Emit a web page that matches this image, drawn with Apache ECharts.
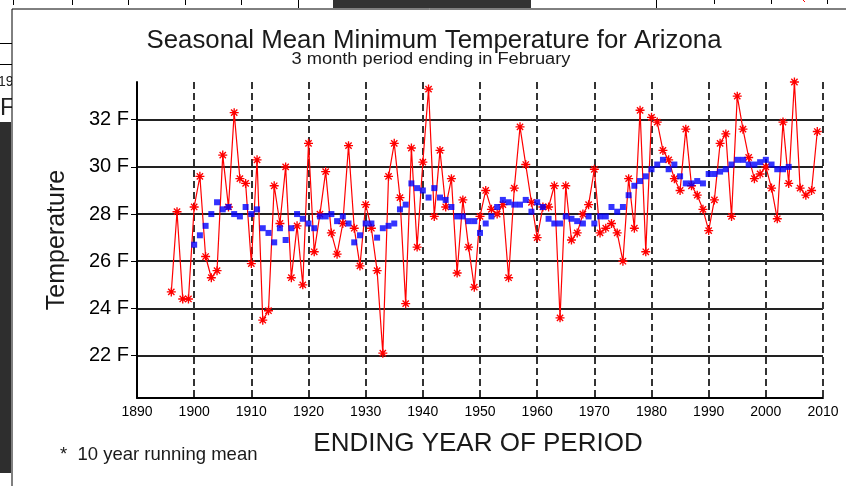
<!DOCTYPE html>
<html>
<head>
<meta charset="utf-8">
<script src="https://cdn.jsdelivr.net/npm/echarts@6/dist/echarts.min.js"></script>
<style>
  html, body { margin: 0; padding: 0; background: #fff; }
  #chart { width: 846px; height: 486px; }
</style>
</head>
<body>
<div id="chart"></div>
<script>
// Seasonal (Dec-Feb) mean minimum temperature, Arizona, °F
const annualYears = [
  1896, 1897, 1898, 1899, 1900, 1901, 1902, 1903, 1904, 1905, 1906, 1907, 1908, 1909,
  1910, 1911, 1912, 1913, 1914, 1915, 1916, 1917, 1918, 1919,
  1920, 1921, 1922, 1923, 1924, 1925, 1926, 1927, 1928, 1929,
  1930, 1931, 1932, 1933, 1934, 1935, 1936, 1937, 1938, 1939,
  1940, 1941, 1942, 1943, 1944, 1945, 1946, 1947, 1948, 1949,
  1950, 1951, 1952, 1953, 1954, 1955, 1956, 1957, 1958, 1959,
  1960, 1961, 1962, 1963, 1964, 1965, 1966, 1967, 1968, 1969,
  1970, 1971, 1972, 1973, 1974, 1975, 1976, 1977, 1978, 1979,
  1980, 1981, 1982, 1983, 1984, 1985, 1986, 1987, 1988, 1989,
  1990, 1991, 1992, 1993, 1994, 1995, 1996, 1997, 1998, 1999,
  2000, 2001, 2002, 2003, 2004, 2005, 2006, 2007, 2008, 2009
];
const annualTemps = [
  24.7, 28.1, 24.4, 24.4, 28.3, 29.6, 26.2, 25.3, 25.6, 30.5, 28.3, 32.3, 29.5, 29.3,
  25.9, 30.3, 23.5, 23.9, 29.2, 27.6, 30.0, 25.3, 27.5, 25.0,
  31.0, 26.4, 28.0, 29.8, 27.2, 26.3, 27.6, 30.9, 27.4, 25.8,
  28.4, 27.4, 25.6, 22.1, 29.6, 31.0, 28.7, 24.2, 30.8, 26.6,
  30.2, 33.3, 27.9, 30.7, 28.3, 29.5, 25.5, 28.6, 26.6, 24.9,
  27.9, 29.0, 28.2, 28.0, 28.4, 25.3, 29.1, 31.7, 30.1, 28.5,
  27.0, 28.3, 28.3, 29.2, 23.6, 29.2, 26.9, 27.2, 28.0, 28.4,
  29.9, 27.2, 27.4, 27.6, 27.2, 26.0, 29.5, 27.4, 32.4, 26.4,
  32.1, 31.9, 30.7, 30.3, 29.5, 29.0, 31.6, 29.2, 28.8, 28.2,
  27.3, 28.6, 31.0, 31.4, 27.9, 33.0, 31.6, 30.4, 29.5, 29.7,
  30.0, 29.1, 27.8, 31.9, 29.3, 33.6, 29.1, 28.8, 29.0, 31.5
];

// 10 year running mean
const meanYears = [
  1900, 1901, 1902, 1903, 1904, 1905, 1906, 1907, 1908, 1909,
  1910, 1911, 1912, 1913, 1914, 1915, 1916, 1917, 1918, 1919,
  1920, 1921, 1922, 1923, 1924, 1925, 1926, 1927, 1928, 1929,
  1930, 1931, 1932, 1933, 1934, 1935, 1936, 1937, 1938, 1939,
  1940, 1941, 1942, 1943, 1944, 1945, 1946, 1947, 1948, 1949,
  1950, 1951, 1952, 1953, 1954, 1955, 1956, 1957, 1958, 1959,
  1960, 1961, 1962, 1963, 1964, 1965, 1966, 1967, 1968, 1969,
  1970, 1971, 1972, 1973, 1974, 1975, 1976, 1977, 1978, 1979,
  1980, 1981, 1982, 1983, 1984, 1985, 1986, 1987, 1988, 1989,
  1990, 1991, 1992, 1993, 1994, 1995, 1996, 1997, 1998, 1999,
  2000, 2001, 2002, 2003, 2004
];
const meanTemps = [
  26.7, 27.1, 27.5, 28.0, 28.5, 28.2, 28.3, 28.0, 27.9, 28.3,
  28.0, 28.2, 27.4, 27.2, 26.8, 27.4, 26.9, 27.4, 28.0, 27.8,
  27.6, 27.4, 27.9, 27.9, 28.0, 27.7, 27.9, 27.6, 26.8, 27.1,
  27.6, 27.6, 27.0, 27.4, 27.5, 27.6, 28.2, 28.4, 29.3, 29.1,
  29.0, 28.7, 29.1, 28.7, 28.6, 28.3, 27.9, 27.9, 27.7, 27.7,
  27.2, 27.6, 27.9, 28.3, 28.6, 28.5, 28.4, 28.4, 28.6, 28.1,
  28.5, 28.3, 27.8, 27.6, 27.6, 27.9, 27.8, 27.7, 27.6, 27.9,
  27.6, 27.9, 27.9, 28.3, 28.1, 28.3, 28.8, 29.2, 29.4, 29.6,
  29.9, 30.1, 30.3, 29.9, 30.1, 29.6, 29.3, 29.3, 29.4, 29.3,
  29.7, 29.7, 29.8, 29.9, 30.1, 30.3, 30.3, 30.1, 30.1, 30.2,
  30.3, 30.1, 29.9, 29.9, 30.0
];

const tempTicks = [22, 24, 26, 28, 30, 32];

// eight-armed asterisk marker
const starSymbol = 'path://M0 8.5L20 8.5L20 11.5L0 11.5Z M8.5 0L11.5 0L11.5 20L8.5 20Z ' +
  'M4.06 1.94L18.06 15.94L15.94 18.06L1.94 4.06Z M15.94 1.94L18.06 4.06L4.06 18.06L1.94 15.94Z';

const annualData = annualYears.map((y, i) => [y, annualTemps[i]]);
const meanData = meanYears.map((y, i) => [y, meanTemps[i]]);

const FONT = '"Liberation Sans", Arial, Helvetica, sans-serif';

const chart = echarts.init(document.getElementById('chart'), null, { renderer: 'canvas' });

chart.setOption({
  animation: false,
  backgroundColor: '#ffffff',
  textStyle: { fontFamily: FONT },
  grid: {
    left: 137, right: 23, top: 82, bottom: 88,
    show: true, borderColor: '#000', borderWidth: 2, backgroundColor: 'transparent'
  },
  xAxis: {
    type: 'value',
    min: 1890, max: 2010, interval: 10,
    axisLine: { show: true, onZero: false, lineStyle: { color: '#000', width: 2 } },
    axisTick: { show: false },
    axisLabel: { color: '#000', fontSize: 14, margin: 7, fontFamily: FONT, formatter: v => String(v) },
    splitLine: { show: true, lineStyle: { color: '#333', width: 2, type: [7, 4] } }
  },
  yAxis: {
    type: 'value',
    min: 20.2, max: 33.6,
    axisLine: { show: true, lineStyle: { color: '#000', width: 2 } },
    axisTick: { show: true, length: 6, customValues: tempTicks, lineStyle: { color: '#000', width: 1 } },
    axisLabel: {
      customValues: tempTicks, color: '#000', fontSize: 20, margin: 8, fontFamily: FONT,
      formatter: v => v + ' F'
    },
    splitLine: { show: true, lineStyle: { color: '#222', width: 2 } }
  },
  series: [
    {
      name: 'annual',
      type: 'line',
      data: annualData,
      symbol: starSymbol,
      symbolSize: 9,
      showAllSymbol: true,
      itemStyle: { color: '#ff0000' },
      lineStyle: { color: '#ff0000', width: 1.2 },
      z: 3
    },
    {
      name: '10 year running mean',
      type: 'scatter',
      data: meanData,
      symbol: 'rect',
      symbolSize: 6,
      itemStyle: { color: '#0000ff' },
      z: 4
    }
  ],
  graphic: [
    // neighbouring window fragments
    { type: 'rect', shape: { x: 0, y: 122, width: 11, height: 351 }, style: { fill: '#2e2e2e' } },
    { type: 'line', shape: { x1: 0, y1: 43.5, x2: 12, y2: 43.5 }, style: { stroke: '#000', lineWidth: 1 } },
    { type: 'line', shape: { x1: 0, y1: 64.5, x2: 12, y2: 64.5 }, style: { stroke: '#000', lineWidth: 1 } },
    { type: 'text', x: -2, y: 82, style: { text: '19', font: '14px ' + FONT, fill: '#222', verticalAlign: 'middle' } },
    { type: 'text', x: 0, y: 108, style: { text: 'F', font: '24px ' + FONT, fill: '#222', verticalAlign: 'middle' } },
    { type: 'rect', shape: { x: 333, y: 0, width: 198, height: 8 }, style: { fill: '#333' } },
    { type: 'line', shape: { x1: 13.5, y1: 0, x2: 13.5, y2: 5 }, style: { stroke: '#000', lineWidth: 1 } },
    { type: 'line', shape: { x1: 72.5, y1: 0, x2: 72.5, y2: 5 }, style: { stroke: '#000', lineWidth: 1 } },
    { type: 'line', shape: { x1: 128.5, y1: 0, x2: 128.5, y2: 5 }, style: { stroke: '#000', lineWidth: 1 } },
    { type: 'line', shape: { x1: 185.5, y1: 0, x2: 185.5, y2: 5 }, style: { stroke: '#000', lineWidth: 1 } },
    { type: 'line', shape: { x1: 241.5, y1: 0, x2: 241.5, y2: 5 }, style: { stroke: '#000', lineWidth: 1 } },
    { type: 'line', shape: { x1: 298.5, y1: 0, x2: 298.5, y2: 8 }, style: { stroke: '#000', lineWidth: 1 } },
    { type: 'line', shape: { x1: 656.5, y1: 0, x2: 656.5, y2: 8 }, style: { stroke: '#000', lineWidth: 1 } },
    { type: 'line', shape: { x1: 714.5, y1: 0, x2: 714.5, y2: 4 }, style: { stroke: '#000', lineWidth: 1 } },
    { type: 'line', shape: { x1: 771.5, y1: 0, x2: 771.5, y2: 4 }, style: { stroke: '#000', lineWidth: 1 } },
    { type: 'line', shape: { x1: 827.5, y1: 0, x2: 827.5, y2: 4 }, style: { stroke: '#000', lineWidth: 1 } },
    { type: 'line', shape: { x1: 803, y1: 0, x2: 805, y2: 2 }, style: { stroke: '#f00', lineWidth: 1 } },
    // chart panel
    { type: 'rect', shape: { x: 12, y: 9, width: 840, height: 480 }, style: { fill: '#fff', stroke: '#000', lineWidth: 1 } },
    // titles
    {
      type: 'text', x: 434, y: 41,
      style: { text: 'Seasonal Mean Minimum Temperature for Arizona', font: '25.8px ' + FONT, fill: '#1a1a1a', align: 'center', verticalAlign: 'middle' }
    },
    {
      type: 'text', x: 431, y: 60, scaleX: 1.14,
      style: { text: '3 month period ending in February', font: '16px ' + FONT, fill: '#1a1a1a', align: 'center', verticalAlign: 'middle' }
    },
    {
      type: 'text', x: 57, y: 240, rotation: Math.PI / 2,
      style: { text: 'Temperature', font: '25px ' + FONT, fill: '#1a1a1a', align: 'center', verticalAlign: 'middle' }
    },
    {
      type: 'text', x: 478, y: 444,
      style: { text: 'ENDING YEAR OF PERIOD', font: '26px ' + FONT, fill: '#1a1a1a', align: 'center', verticalAlign: 'middle' }
    },
    {
      type: 'text', x: 60, y: 455,
      style: { text: '*  10 year running mean', font: '18.5px ' + FONT, fill: '#1a1a1a', align: 'left', verticalAlign: 'middle' }
    }
  ]
});
</script>
</body>
</html>
